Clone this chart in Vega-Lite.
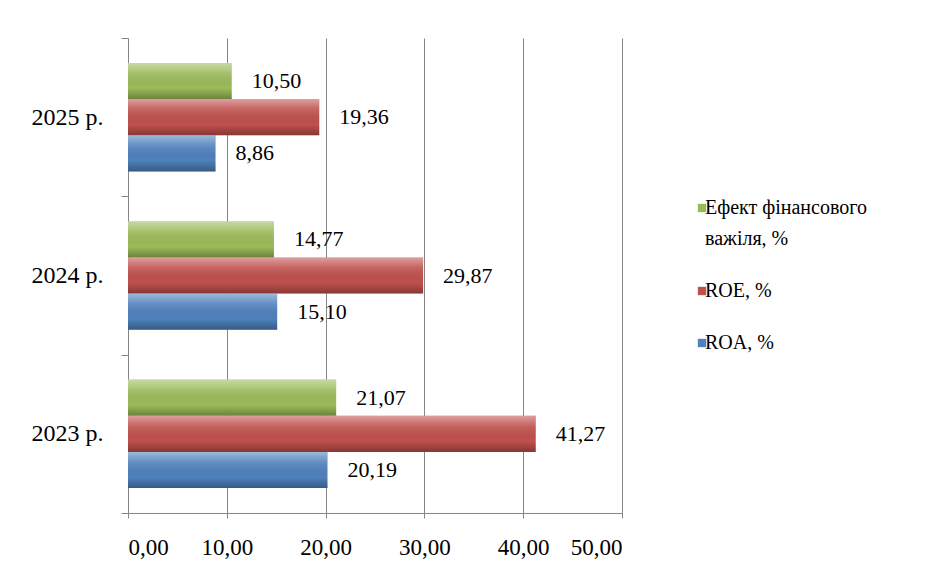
{
  "$schema": "https://vega.github.io/schema/vega-lite/v6.json",
  "autosize": "none",
  "width": 494,
  "height": 475,
  "padding": {"left": 128, "top": 38, "right": 322, "bottom": 56},
  "background": "white",
  "config": {
    "font": "Liberation Serif",
    "view": {"stroke": null},
    "style": {"guide-label": {"font": "Liberation Serif", "lineHeight": 31}},
    "locale": {"number": {"decimal": ",", "thousands": " ", "grouping": [3], "currency": ["", ""]}}
  },
  "data": {
    "values": [
      {"year": "2023 р.", "series": "ROA, %", "value": 20.19},
      {"year": "2023 р.", "series": "ROE, %", "value": 41.27},
      {"year": "2023 р.", "series": "Ефект фінансового важіля, %", "value": 21.07},
      {"year": "2024 р.", "series": "ROA, %", "value": 15.10},
      {"year": "2024 р.", "series": "ROE, %", "value": 29.87},
      {"year": "2024 р.", "series": "Ефект фінансового важіля, %", "value": 14.77},
      {"year": "2025 р.", "series": "ROA, %", "value": 8.86},
      {"year": "2025 р.", "series": "ROE, %", "value": 19.36},
      {"year": "2025 р.", "series": "Ефект фінансового важіля, %", "value": 10.50}
    ]
  },
  "encoding": {
    "y": {
      "field": "year", "type": "nominal",
      "sort": ["2025 р.", "2024 р.", "2023 р."],
      "scale": {"paddingInner": 0, "paddingOuter": 0},
      "axis": {"title": null, "tickBand": "extent", "labelFont": "Liberation Serif", "labelFontSize": 24, "labelColor": "black", "domainColor": "#868686", "tickColor": "#868686", "tickSize": 7, "labelPadding": 18, "grid": false}
    },
    "yOffset": {
      "field": "series", "type": "nominal",
      "sort": ["Ефект фінансового важіля, %", "ROE, %", "ROA, %"],
      "scale": {"paddingOuter": 0.69, "paddingInner": 0}
    },
    "x": {
      "field": "value", "type": "quantitative",
      "scale": {"domain": [0, 50], "nice": false},
      "axis": {"title": null, "values": [0, 10, 20, 30, 40, 50], "format": ".2f", "grid": true, "gridColor": "#868686", "domainColor": "#868686", "tickColor": "#868686", "tickSize": 5, "labelPadding": 18, "labelFont": "Liberation Serif", "labelFontSize": 23, "labelColor": "black"}
    }
  },
  "layer": [
    {
      "mark": {"type": "bar"},
      "encoding": {
        "color": {
          "field": "series", "type": "nominal",
          "scale": {"domain": ["Ефект фінансового важіля, %", "ROE, %", "ROA, %"], "range": ["#9BBB59", "#C0504D", "#4F81BD"]},
          "legend": {
            "orient": "none", "legendX": 564, "legendY": 160, "title": null, "padding": 0,
            "symbolType": "square", "symbolSize": 70, "symbolStrokeWidth": 0,
            "labelFont": "Liberation Serif", "labelFontSize": 20, "labelColor": "black", "labelLimit": 400, "labelOffset": -7,
            "rowPadding": 32,
            "labelExpr": "datum.label == 'Ефект фінансового важіля, %' ? ['Ефект  фінансового', 'важіля,  %'] : datum.label == 'ROE, %' ? 'ROE,  %' : datum.label"
          }
        }
      }
    },
    {
      "mark": {
        "type": "bar",
        "fill": {"gradient": "linear", "x1": 0, "y1": 0, "x2": 0, "y2": 1,
          "stops": [
            {"offset": 0, "color": "rgba(255,255,255,0.45)"},
            {"offset": 0.25, "color": "rgba(255,255,255,0.15)"},
            {"offset": 0.7, "color": "rgba(0,0,0,0)"},
            {"offset": 1, "color": "rgba(0,0,0,0.3)"}
          ]}
      },
      "encoding": {}
    },
    {
      "mark": {"type": "text", "align": "left", "baseline": "middle", "dx": 20, "font": "Liberation Serif", "fontSize": 22, "color": "black"},
      "encoding": {"text": {"field": "value", "type": "quantitative", "format": ".2f"}}
    }
  ]
}
